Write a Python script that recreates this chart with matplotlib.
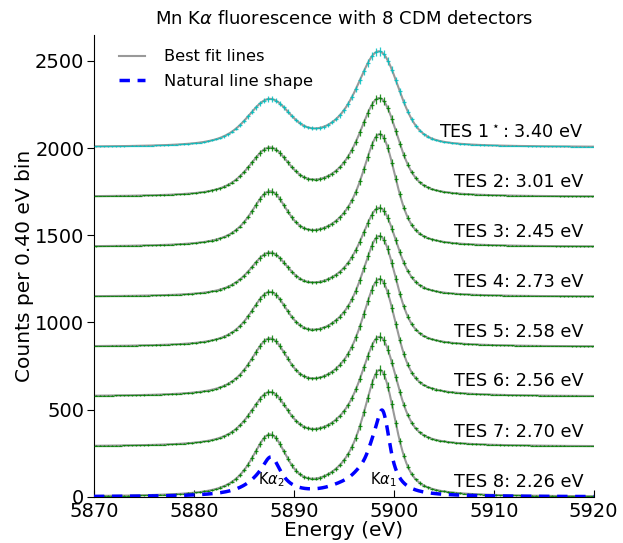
import numpy as np
import matplotlib.pyplot as plt

# Mn K-alpha natural line components (energy eV, Lorentzian FWHM eV, relative height)
line_energy = [5898.853, 5897.867, 5894.829, 5896.532, 5899.417, 5887.743, 5886.495]
line_width = [1.715, 2.043, 4.499, 2.663, 0.969, 2.361, 4.216]
line_height = [0.790, 0.264, 0.068, 0.096, 0.0714, 0.372, 0.100]

# detectors, top to bottom
detectors = ['TES 1$^\\star$', 'TES 2', 'TES 3', 'TES 4', 'TES 5', 'TES 6', 'TES 7', 'TES 8']
resolution = [3.40, 3.01, 2.45, 2.73, 2.58, 2.56, 2.70, 2.26]   # Gaussian FWHM, eV
offsets = [2005, 1720, 1433, 1147, 860, 575, 288, 0]
peak_counts = [550, 567, 647, 511, 636, 674, 630, 728]          # K-alpha1 peak above offset
colors = ['c', 'g', 'g', 'g', 'g', 'g', 'g', 'g']

natural_peak = 498
bin_width = 0.40

# fine energy grid for the model
de = 0.02
e = np.arange(5830, 5960, de)
natural = np.zeros_like(e)
for e0, w, h in zip(line_energy, line_width, line_height):
    natural += h / (1 + (2 * (e - e0) / w) ** 2)

bins = np.arange(5870 + bin_width / 2, 5920, bin_width)

fig = plt.figure(figsize=(6.23, 5.43), dpi=100)
ax = fig.add_axes([0.151, 0.085, 0.802, 0.851])

for i, name in enumerate(detectors):
    sigma = resolution[i] / 2.3548
    k = np.arange(-6 * sigma, 6 * sigma + de, de)
    kern = np.exp(-0.5 * (k / sigma) ** 2)
    conv = np.convolve(natural, kern / kern.sum(), mode='same')
    model = conv / conv.max() * peak_counts[i]
    fit = model + offsets[i]
    counts = np.interp(bins, e, model)
    label = 'Best fit lines' if i == 0 else None
    ax.plot(e, fit, color='0.6', lw=1.5, label=label, zorder=2)
    ax.errorbar(bins, counts + offsets[i], yerr=np.sqrt(counts), xerr=bin_width / 2,
                fmt='none', ecolor=colors[i], elinewidth=0.9, alpha=0.85,
                capsize=0, zorder=3)
    ax.text(5919, offsets[i] + 35, '%s: %.2f eV' % (name, resolution[i]),
            ha='right', va='bottom', fontsize=12.7)

ax.plot(e, natural / natural.max() * natural_peak, 'b--', lw=2.5, dashes=(3, 2.2),
        label='Natural line shape', zorder=5)

ax.text(5887.7, 45, r'K$\alpha_2$', ha='center', va='bottom', fontsize=10.5)
ax.text(5898.9, 45, r'K$\alpha_1$', ha='center', va='bottom', fontsize=10.5)

ax.set_xlim(5870, 5920)
ax.set_ylim(0, 2650)
ax.set_xticks(np.arange(5870, 5921, 10))
ax.set_yticks(np.arange(0, 2501, 500))
ax.spines['top'].set_visible(False)
ax.spines['right'].set_visible(False)
ax.tick_params(axis='x', direction='in', labelsize=14, length=5)
ax.tick_params(axis='y', direction='out', labelsize=14, length=5, pad=2)
ax.set_xlabel('Energy (eV)', fontsize=14.5, labelpad=0)
ax.set_ylabel('Counts per 0.40 eV bin', fontsize=14.5, labelpad=1)
ax.set_title(r'Mn K$\alpha$ fluorescence with 8 CDM detectors', fontsize=13, pad=8)
ax.legend(loc='upper left', frameon=False, fontsize=11.7, handlelength=1.6,
          handletextpad=1.2, labelspacing=0.6, bbox_to_anchor=(0.02, 1.0))

fig.savefig('out.png', dpi=100)
